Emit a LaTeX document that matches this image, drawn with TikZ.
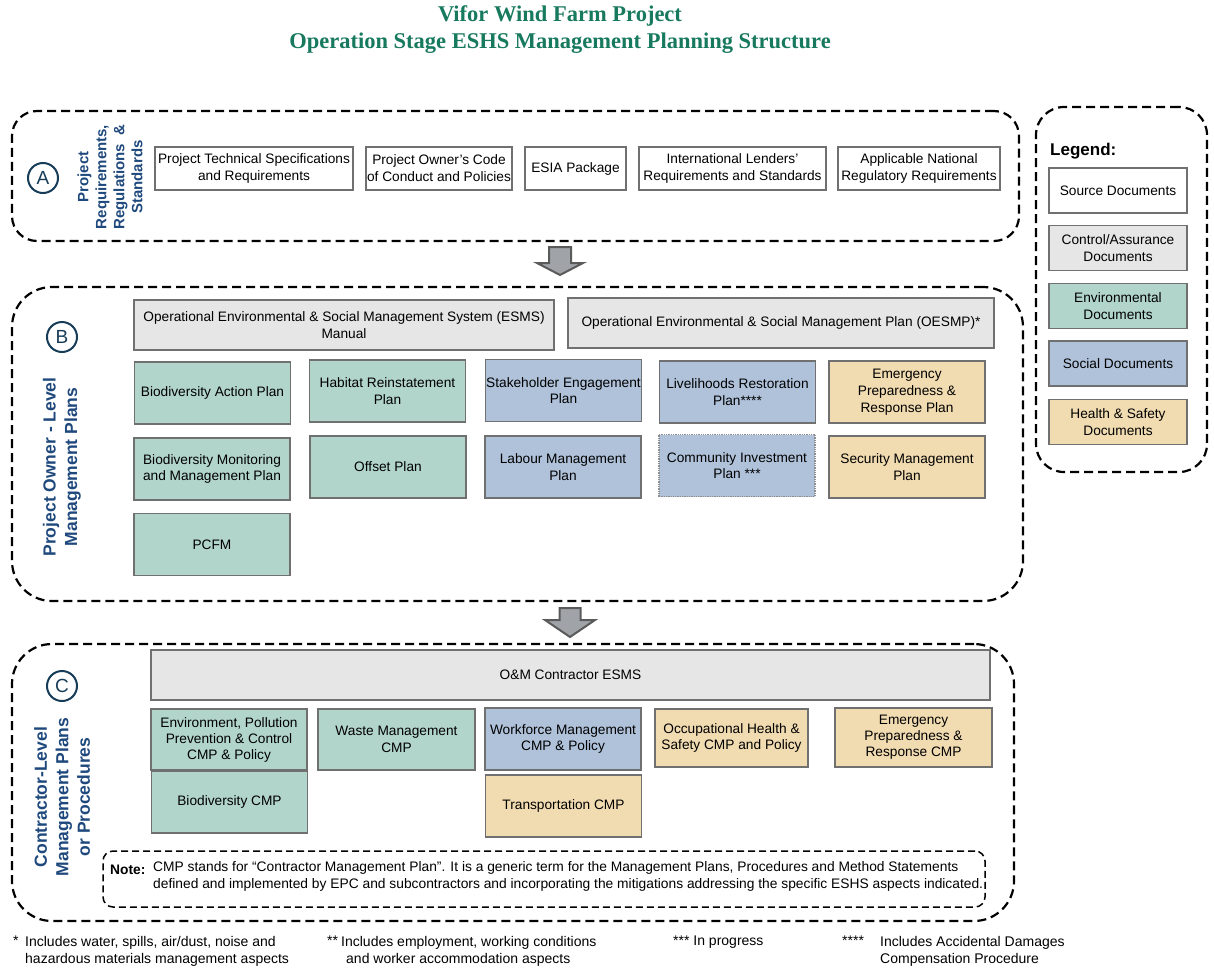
\documentclass[tikz,border=0pt]{standalone}
\usepackage{fontspec}
\setmainfont{Liberation Sans}
\newfontfamily\titleserif{Liberation Serif}
\usetikzlibrary{positioning}
\definecolor{titlegreen}{RGB}{23,121,93}
\definecolor{labelblue}{RGB}{31,73,125}
\definecolor{circleblue}{RGB}{22,60,88}
\definecolor{boxline}{RGB}{112,112,112}
\definecolor{ctrlgray}{RGB}{230,230,230}
\definecolor{envgreen}{RGB}{178,213,203}
\definecolor{socblue}{RGB}{175,194,218}
\definecolor{hstan}{RGB}{241,219,177}
\definecolor{arrowfill}{RGB}{160,164,168}
\definecolor{arrowline}{RGB}{90,90,90}

\begin{document}
\begin{tikzpicture}[x=1pt, y=-1pt,
    doc/.style={
      rectangle, draw=boxline, line width=1.3pt, align=center,
      inner sep=0.5pt, font=\fontsize{13.7}{16.8}\selectfont
    },
    src/.style={doc, fill=white},
    ctrl/.style={doc, fill=ctrlgray},
    env/.style={doc, fill=envgreen},
    soc/.style={doc, fill=socblue},
    hs/.style={doc, fill=hstan},
    plan/.style={minimum width=156pt, minimum height=62pt},
    legbox/.style={minimum width=138pt, minimum height=45pt},
    section/.style={
      rectangle, draw=black, line width=2.2pt, dash pattern=on 9pt off 5pt
    },
    stage/.style={
      circle, draw=circleblue, text=circleblue, line width=2pt,
      minimum size=30pt, inner sep=0pt, font=\fontsize{19}{19}\selectfont
    },
    sidelabel/.style={
      rotate=90, align=center, text=labelblue,
      font=\bfseries\fontsize{17.5}{21.5}\selectfont
    },
    bigarrow/.style={fill=arrowfill, draw=arrowline, line width=2pt, line join=miter},
    fnote/.style={align=left, inner sep=0pt, font=\fontsize{14}{17}\selectfont}
]
  % title
  \node[text=titlegreen, align=center, font=\titleserif\bfseries\fontsize{22.5}{27}\selectfont]
    (title) at (560,30) {Vifor Wind Farm Project\\Operation Stage ESHS Management Planning Structure};

  % A - requirements
  \node[section, rounded corners=25pt, minimum width=1007pt, minimum height=130pt] (secA) at (515.5,176) {};
  \node[stage] (circA) at (43,178) {A};
  \node[sidelabel, font=\bfseries\fontsize{15}{18}\selectfont] (lblA) at (110,177)
    {Project\\Requirements,\\Regulations \ \&\\Standards};
  \node[src, minimum width=198pt, minimum height=43pt] (techspec) at (254,168.5)
    {Project Technical Specifications\\and Requirements};
  \node[src, minimum width=146pt, minimum height=43pt] (owncode) at (439,168.5)
    {Project Owner’s Code\\of Conduct and Policies};
  \node[src, minimum width=101pt, minimum height=43pt] (esia) at (575.5,168.5) {ESIA Package};
  \node[src, minimum width=187pt, minimum height=43pt] (lenders) at (732.5,168.5)
    {International Lenders’\\Requirements and Standards};
  \node[src, minimum width=162pt, minimum height=43pt] (natreg) at (919,168.5)
    {Applicable National\\Regulatory Requirements};

  \coordinate (ab) at (560,247);
  \draw[bigarrow] (ab) ++(-11,0) -- ++(22,0) -- ++(0,16) -- ++(12,0) -- ++(-23,12)
    -- ++(-23,-12) -- ++(12,0) -- cycle;

  % B - project owner plans
  \node[section, rounded corners=40pt, minimum width=1011pt, minimum height=314pt] (secB) at (517.5,444) {};
  \node[stage] (circB) at (62,337) {B};
  \node[sidelabel] (lblB) at (62,467) {Project Owner - Level\\Management Plans};
  \node[ctrl, minimum width=420pt, minimum height=50pt] (esms) at (344,325)
    {Operational Environmental \& Social Management System (ESMS)\\Manual};
  \node[ctrl, minimum width=426pt, minimum height=50pt] (oesmp) at (781,323)
    {Operational Environmental \& Social Management Plan (OESMP)*};
  \node[env, plan] (bap) at (212.5,393) {Biodiversity Action Plan};
  \node[env, plan] (hrp) at (387.5,391) {Habitat Reinstatement\\Plan};
  \node[soc, plan] (sep) at (563.5,390.5) {Stakeholder Engagement\\Plan};
  \node[soc, plan] (lrp) at (737.5,392) {Livelihoods Restoration\\Plan****};
  \node[hs, plan] (eprp) at (907,392) {Emergency\\Preparedness \&\\Response Plan};
  \node[env, plan] (bmmp) at (212,469) {Biodiversity Monitoring\\and Management Plan};
  \node[env, plan] (offset) at (388,467) {Offset Plan};
  \node[soc, plan] (lmp) at (563,467) {Labour Management\\Plan};
  \node[soc, plan, draw=boxline!80, densely dotted] (cip) at (737,465.5) {Community Investment\\Plan ***};
  \node[hs, plan] (smp) at (907,467) {Security Management\\Plan};
  \node[env, plan] (pcfm) at (212,544.5) {PCFM};

  \coordinate (bc) at (570,608);
  \draw[bigarrow] (bc) ++(-10.5,0) -- ++(21,0) -- ++(0,12) -- ++(14.5,0) -- ++(-25,17)
    -- ++(-25,-17) -- ++(14.5,0) -- cycle;

  % C - contractor plans
  \node[section, rounded corners=40pt, minimum width=1002pt, minimum height=277pt] (secC) at (513,782.5) {};
  \node[stage] (circC) at (62,686) {C};
  \node[sidelabel] (lblC) at (62,797) {Contractor-Level\\Management Plans\\or Procedures};
  \node[ctrl, minimum width=839pt, minimum height=50pt] (omesms) at (570.5,675) {O\&M Contractor ESMS};
  \node[env, minimum width=156pt, minimum height=61pt, font=\fontsize{13.7}{16}\selectfont] (eppc) at (229,739.5)
    {Environment, Pollution\\Prevention \& Control\\CMP \& Policy};
  \node[env, minimum width=157pt, minimum height=61pt] (wmcmp) at (396.5,739.5) {Waste Management\\CMP};
  \node[soc, minimum width=156pt, minimum height=62pt] (wfcmp) at (563,739) {Workforce Management\\CMP \& Policy};
  \node[hs, minimum width=153pt, minimum height=58pt] (ohscmp) at (731.5,738) {Occupational Health \&\\Safety CMP and Policy};
  \node[hs, minimum width=157pt, minimum height=59pt, font=\fontsize{13.7}{16}\selectfont] (eprcmp) at (913.5,737.5)
    {Emergency\\Preparedness \&\\Response CMP};
  \node[env, plan] (biocmp) at (229.5,802) {Biodiversity CMP};
  \node[hs, plan] (trcmp) at (563.5,806) {Transportation CMP};

  % note
  \node[rectangle, draw=black, line width=1.5pt, dash pattern=on 7pt off 4pt, rounded corners=10pt,
        minimum width=882pt, minimum height=56pt] (notebox) at (544,879) {};
  \node[fnote, anchor=west, font=\bfseries\fontsize{13.8}{17}\selectfont] (notelbl) at (110,870) {Note:};
  \node[fnote, anchor=north west, font=\fontsize{13.8}{17}\selectfont] (notetxt) at (153,861)
    {CMP stands for “Contractor Management Plan”. It is a generic term for the Management Plans, Procedures and Method Statements\\
     defined and implemented by EPC and subcontractors and incorporating the mitigations addressing the specific ESHS aspects indicated.};

  % legend
  \node[section, rounded corners=28pt, minimum width=171pt, minimum height=365pt] (legend) at (1121.5,289.5) {};
  \node[anchor=west, inner sep=0pt, font=\bfseries\fontsize{17}{17}\selectfont] (legtitle) at (1050,151) {Legend:};
  \node[src, legbox] (legsrc) at (1118,190.5) {Source Documents};
  \node[ctrl, legbox] (legctrl) [below=11pt of legsrc] {Control/Assurance\\Documents};
  \node[env, legbox] (legenv) [below=12pt of legctrl] {Environmental\\Documents};
  \node[soc, legbox] (legsoc) [below=11pt of legenv] {Social Documents};
  \node[hs, legbox] (leghs) [below=12pt of legsoc] {Health \& Safety\\Documents};

  % footnotes
  \node[fnote, anchor=north west] (fn1m) at (13,936) {*};
  \node[fnote, anchor=north west] (fn1) at (25,936) {Includes water, spills, air/dust, noise and\\hazardous materials management aspects};
  \node[fnote, anchor=north west] (fn2m) at (327,936) {**};
  \node[fnote, anchor=north west] (fn2) at (341,936) {Includes employment, working conditions\\\hspace{5pt}and worker accommodation aspects};
  \node[fnote, anchor=north west] (fn3) at (673,936) {*** In progress};
  \node[fnote, anchor=north west] (fn4m) at (842,936) {****};
  \node[fnote, anchor=north west] (fn4) at (880,936) {Includes Accidental Damages\\Compensation Procedure};

  \useasboundingbox (0,0) rectangle (1214,974);
\end{tikzpicture}
\end{document}
